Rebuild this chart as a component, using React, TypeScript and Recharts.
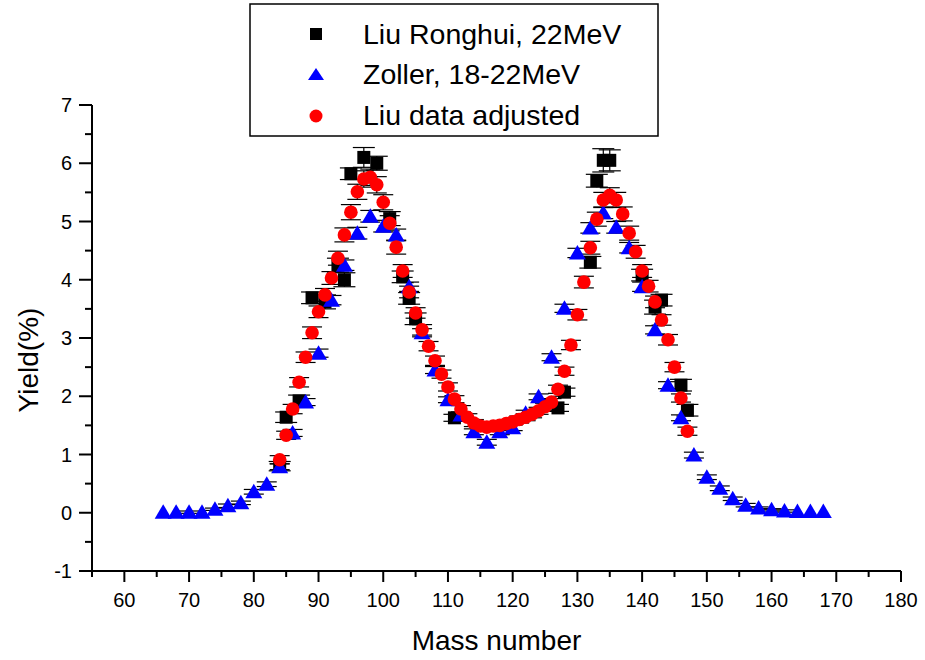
import { ErrorBar, Label, Scatter, ScatterChart, XAxis, YAxis } from 'recharts'

// Liu Ronghui, 22MeV (black squares)
const liuMass = [84, 85, 87, 89, 91, 93, 94, 95, 97, 99, 101, 103, 104, 105, 111, 127, 128, 132, 133, 134, 135, 140, 142, 143, 146, 147]
const liuYield = [0.8, 1.64, 1.92, 3.69, 3.62, 4.25, 4.0, 5.82, 6.1, 6.0, 5.05, 4.05, 3.68, 3.33, 1.63, 1.8, 2.07, 4.3, 5.7, 6.05, 6.05, 4.08, 3.53, 3.65, 2.19, 1.76]
const liuErr = [0.08, 0.09, 0.1, 0.1, 0.12, 0.12, 0.12, 0.1, 0.17, 0.12, 0.12, 0.1, 0.1, 0.1, 0.06, 0.06, 0.07, 0.1, 0.11, 0.2, 0.18, 0.1, 0.12, 0.1, 0.1, 0.1]

// Zoller, 18-22MeV (blue triangles)
const zolMass = [66, 68, 70, 72, 74, 76, 78, 80, 82, 84, 86, 88, 90, 92, 94, 96, 98, 100, 102, 104, 106, 108, 110, 112, 114, 116, 118, 120, 122, 124, 126, 128, 130, 132, 134, 136, 138, 140, 142, 144, 146, 148, 150, 152, 154, 156, 158, 160, 162, 164, 166, 168]
const zolYield = [0.01, 0.01, 0.01, 0.01, 0.06, 0.12, 0.17, 0.36, 0.49, 0.79, 1.37, 1.9, 2.74, 3.65, 4.25, 4.8, 5.09, 4.92, 4.77, 3.88, 3.09, 2.45, 1.94, 1.68, 1.39, 1.21, 1.39, 1.46, 1.71, 1.99, 2.67, 3.51, 4.46, 4.89, 5.15, 4.9, 4.55, 3.88, 3.14, 2.19, 1.63, 0.99, 0.61, 0.42, 0.24, 0.13, 0.08, 0.05, 0.03, 0.02, 0.02, 0.02]
const zolErr = [0, 0, 0.02, 0, 0.02, 0.03, 0.03, 0.04, 0.04, 0.05, 0.06, 0.06, 0.07, 0.08, 0.09, 0.1, 0.1, 0.1, 0.1, 0.08, 0.07, 0.06, 0.05, 0.05, 0.05, 0.05, 0.05, 0.05, 0.05, 0.05, 0.06, 0.07, 0.08, 0.09, 0.1, 0.1, 0.09, 0.08, 0.07, 0.06, 0.05, 0.05, 0.04, 0.04, 0.03, 0.03, 0.02, 0.02, 0.02, 0, 0, 0]

// Liu data adjusted (red circles)
const adjMass = [84, 85, 86, 87, 88, 89, 90, 91, 92, 93, 94, 95, 96, 97, 98, 99, 100, 101, 102, 103, 104, 105, 106, 107, 108, 109, 110, 111, 112, 113, 114, 115, 116, 117, 118, 119, 120, 121, 122, 123, 124, 125, 126, 127, 128, 129, 130, 131, 132, 133, 134, 135, 136, 137, 138, 139, 140, 141, 142, 143, 144, 145, 146, 147]
const adjYield = [0.91, 1.33, 1.78, 2.24, 2.67, 3.09, 3.45, 3.74, 4.03, 4.37, 4.77, 5.16, 5.51, 5.73, 5.76, 5.63, 5.33, 4.97, 4.56, 4.15, 3.79, 3.43, 3.14, 2.86, 2.61, 2.38, 2.16, 1.95, 1.78, 1.64, 1.54, 1.49, 1.47, 1.49, 1.5, 1.53, 1.56, 1.6, 1.64, 1.69, 1.75, 1.82, 1.9, 2.12, 2.43, 2.88, 3.4, 3.96, 4.55, 5.04, 5.37, 5.45, 5.37, 5.13, 4.8, 4.48, 4.15, 3.89, 3.62, 3.31, 2.97, 2.5, 1.97, 1.4]
const adjErr = [0.07, 0.07, 0.08, 0.08, 0.09, 0.1, 0.1, 0.11, 0.11, 0.12, 0.12, 0.13, 0.13, 0.14, 0.14, 0.14, 0.13, 0.13, 0.12, 0.11, 0.1, 0.09, 0.09, 0.08, 0.08, 0.07, 0.07, 0.06, 0.06, 0.06, 0.06, 0.05, 0.05, 0.05, 0.05, 0.05, 0.05, 0.06, 0.06, 0.06, 0.06, 0.06, 0.06, 0.07, 0.07, 0.08, 0.09, 0.1, 0.11, 0.12, 0.13, 0.13, 0.13, 0.12, 0.12, 0.11, 0.11, 0.1, 0.1, 0.09, 0.09, 0.08, 0.07, 0.07]

const xTicks = [55, 60, 65, 70, 75, 80, 85, 90, 95, 100, 105, 110, 115, 120, 125, 130, 135, 140, 145, 150, 155, 160, 165, 170, 175, 180]
const yTicks = [-1, -0.5, 0, 0.5, 1, 1.5, 2, 2.5, 3, 3.5, 4, 4.5, 5, 5.5, 6, 6.5, 7]

const FONT = '"Liberation Sans", Arial, Helvetica, sans-serif'

function zip(mass: number[], yld: number[], err: number[]) {
  return mass.map((m, i) => ({ x: m, y: yld[i], err: err[i] }))
}

const liuData = zip(liuMass, liuYield, liuErr)
const zolData = zip(zolMass, zolYield, zolErr)
const adjData = zip(adjMass, adjYield, adjErr)

function SquareDot(p: any) {
  const { cx, cy } = p
  return <rect x={cx - 6.5} y={cy - 6.5} width={13} height={13} fill="#000" />
}

function TriangleDot(p: any) {
  const { cx, cy } = p
  return <path d={`M${cx},${cy - 8} L${cx + 8.5},${cy + 6.5} L${cx - 8.5},${cy + 6.5} Z`} fill="#0000ff" />
}

function CircleDot(p: any) {
  const { cx, cy } = p
  return <circle cx={cx} cy={cy} r={6.8} fill="#ff0000" />
}

function NoDot() {
  return <g />
}

function XTick(p: any) {
  const { x, y, payload } = p
  const v = payload.value
  const major = v % 10 === 0
  return (
    <g>
      <line x1={x} x2={x} y1={y} y2={y + (major ? 11 : 6)} stroke="#000" strokeWidth={2} />
      {major ? (
        <text x={x} y={y + 36} textAnchor="middle" fontSize={20} fontFamily={FONT} fill="#000">
          {v}
        </text>
      ) : null}
    </g>
  )
}

function YTick(p: any) {
  const { x, y, payload } = p
  const v = payload.value
  const major = Number.isInteger(v)
  return (
    <g>
      <line x1={x - (major ? 13 : 7)} x2={x} y1={y} y2={y} stroke="#000" strokeWidth={2} />
      {major ? (
        <text x={x - 20} y={y + 7} textAnchor="end" fontSize={20} fontFamily={FONT} fill="#000">
          {v}
        </text>
      ) : null}
    </g>
  )
}

function Legend() {
  return (
    <svg width={925} height={140} style={{ position: 'absolute', left: 0, top: 0 }}>
      <rect x={250} y={4} width={408} height={132} fill="#fff" stroke="#000" strokeWidth={1.5} />
      <rect x={310} y={28} width={12} height={12} fill="#000" />
      <path d="M316,68 L324,80 L308,80 Z" fill="#0000ff" />
      <circle cx={316} cy={116} r={6.5} fill="#ff0000" />
      <g fontFamily={FONT} fontSize={28.5} fill="#000">
        <text x={363} y={44}>Liu Ronghui, 22MeV</text>
        <text x={363} y={84}>Zoller, 18-22MeV</text>
        <text x={363} y={125}>Liu data adjusted</text>
      </g>
    </svg>
  )
}

export default function App() {
  return (
    <div style={{ position: 'absolute', left: 0, top: 0, width: 925, height: 660, background: '#fff' }}>
      <ScatterChart width={925} height={660} margin={{ top: 105, right: 24, bottom: 0, left: 0 }}>
        <XAxis
          type="number"
          dataKey="x"
          domain={[55, 180]}
          ticks={xTicks}
          interval={0}
          height={89}
          tickSize={0}
          tickMargin={0}
          tickLine={false}
          tick={<XTick />}
          axisLine={{ stroke: '#000', strokeWidth: 2 }}
        >
          <Label
            content={(props: any) => {
              const vb = props.viewBox
              return (
                <text x={vb.x + vb.width / 2} y={vb.y + 79} textAnchor="middle" fontSize={28} fontFamily={FONT} fill="#000">
                  Mass number
                </text>
              )
            }}
          />
        </XAxis>
        <YAxis
          type="number"
          dataKey="y"
          domain={[-1, 7]}
          ticks={yTicks}
          interval={0}
          width={92}
          tickSize={0}
          tickMargin={0}
          tickLine={false}
          tick={<YTick />}
          axisLine={{ stroke: '#000', strokeWidth: 2 }}
        >
          <Label
            content={() => (
              <text x={38} y={360} transform="rotate(-90, 38, 360)" textAnchor="middle" fontSize={28} fontFamily={FONT} fill="#000">
                Yield(%)
              </text>
            )}
          />
        </YAxis>

        <Scatter name="Liu Ronghui, 22MeV" data={liuData} shape={SquareDot} isAnimationActive={false} />
        <Scatter name="Zoller, 18-22MeV" data={zolData} shape={TriangleDot} isAnimationActive={false} />
        <Scatter name="Liu data adjusted" data={adjData} shape={CircleDot} isAnimationActive={false} />

        {/* error bars drawn last so they sit on top of the markers */}
        <Scatter data={liuData} shape={NoDot} isAnimationActive={false} legendType="none">
          <ErrorBar dataKey="err" direction="y" width={11} stroke="#000" strokeWidth={1.2} isAnimationActive={false} />
        </Scatter>
        <Scatter data={zolData} shape={NoDot} isAnimationActive={false} legendType="none">
          <ErrorBar dataKey="err" direction="y" width={10} stroke="#000" strokeWidth={1.2} isAnimationActive={false} />
        </Scatter>
        <Scatter data={adjData} shape={NoDot} isAnimationActive={false} legendType="none">
          <ErrorBar dataKey="err" direction="y" width={10} stroke="#000" strokeWidth={1.2} isAnimationActive={false} />
        </Scatter>
      </ScatterChart>
      <Legend />
    </div>
  )
}
